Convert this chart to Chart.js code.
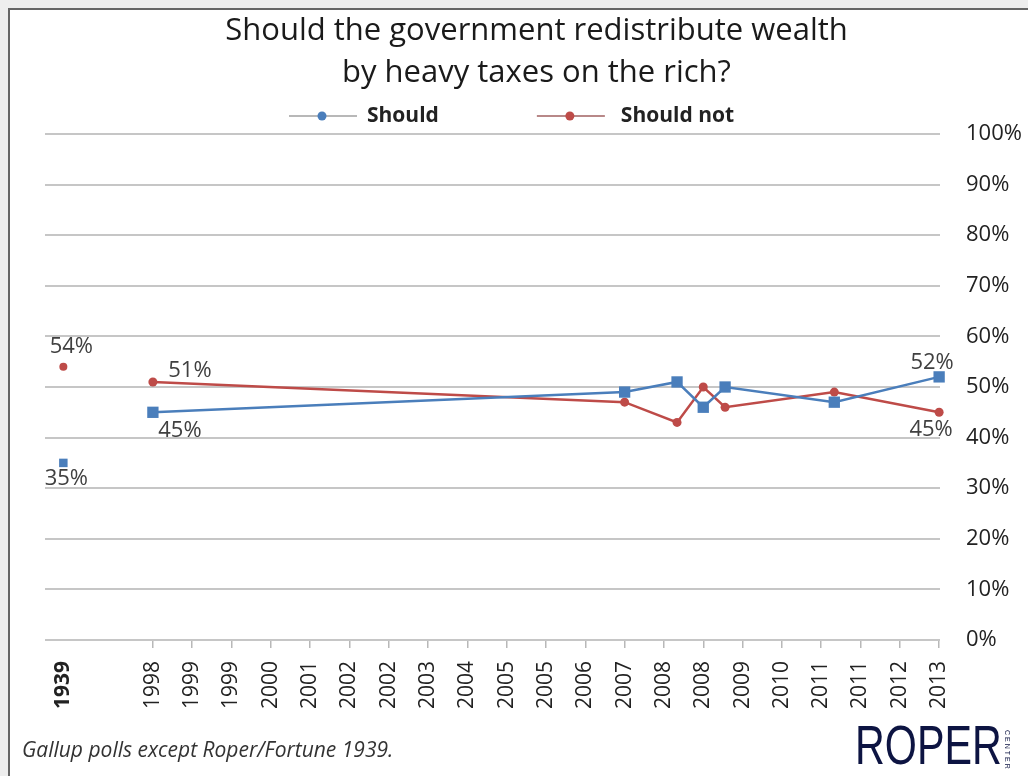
<!DOCTYPE html>
<html lang="en">
<head>
  <meta charset="UTF-8" />
  <title>Should the government redistribute wealth</title>
  <script src="https://cdn.jsdelivr.net/npm/chart.js"></script>
  <style>
    * { box-sizing: content-box; margin: 0; padding: 0; }
    body { background: #eeeeee; width: 1028px; height: 776px; overflow: hidden; font-family: 'Open Sans', sans-serif; }
    .frame {
      position: absolute; left: 8px; top: 8px;
      width: 1018px; height: 766px;
      background: #fff;
      border-left: 2px solid #666;
      border-top: 2px solid #666;
      overflow: hidden;
    }
    #chart { position: absolute; left: 0; top: 0; }
    .note {
      position: absolute; left: 12px; top: 725px;
      font: italic 21px 'Open Sans', sans-serif; color: #333;
      white-space: nowrap;
    }
    .logo {
      position: absolute; left: 845px; top: 708px;
      font: 55px 'Liberation Sans', sans-serif;
      line-height: 55px; color: #0d1442;
      transform: scaleX(0.75); transform-origin: 0 0;
    }
    .logo-sub {
      position: absolute; left: 994px; top: 720px;
      writing-mode: vertical-rl;
      font: 7px 'Liberation Sans', sans-serif; letter-spacing: 2px; color: #0d1442;
    }
  </style>
</head>
<body>
  <div class="frame">
    <canvas id="chart" width="1018" height="766"></canvas>
    <div class="note">Gallup polls except Roper/Fortune 1939.</div>
    <div class="logo">ROPER</div>
    <div class="logo-sub">CENTER</div>
  </div>

  <script>
    // poll dates (1939 sits off the date scale, to the left)
    const pollDates = ['1939', '1998-04', '2007-04', '2008-04', '2008-10', '2009-03', '2011-04', '2013-04'];
    const shouldValues = [35, 45, 49, 51, 46, 50, 47, 52];
    const shouldNotValues = [54, 51, 47, 43, 50, 46, 49, 45];
    const xTickLabels = ['1939', '1998', '1999', '1999', '2000', '2001', '2002', '2002', '2003', '2004', '2005',
      '2005', '2006', '2007', '2008', '2008', '2009', '2010', '2011', '2011', '2012', '2013'];

    // axis unit = months since April 1998, ticks every 9 months
    const POS_1939 = -20.5;
    function axisPos(d) {
      if (d === '1939') return POS_1939;
      const [y, m] = d.split('-').map(Number);
      return (y - 1998) * 12 + (m - 4);
    }
    const tickPositions = xTickLabels.map((_, i) => i === 0 ? POS_1939 : (i - 1) * 9);

    const BLUE = '#4a7ebb';
    const RED = '#be4b48';

    const valueLabels = {
      id: 'valueLabels',
      afterDatasetsDraw(chart) {
        const ctx = chart.ctx;
        ctx.save();
        ctx.font = '22px "Open Sans"';
        ctx.fillStyle = '#404040';
        ctx.textAlign = 'center';
        ctx.textBaseline = 'middle';
        chart.data.datasets.forEach((ds, di) => {
          const meta = chart.getDatasetMeta(di);
          Object.entries(ds.labelAt).forEach(([i, off]) => {
            const p = meta.data[i];
            ctx.fillText(ds.data[i].y + '%', p.x + off[0], p.y + off[1]);
          });
        });
        ctx.restore();
      }
    };

    // Excel-style legend: short line with marker, then bold text
    const lineLegend = {
      id: 'lineLegend',
      afterDraw(chart) {
        const ctx = chart.ctx;
        const y = chart.chartArea.top - 18;
        let x = chart.chartArea.left + 244;
        ctx.save();
        ctx.font = 'bold 21px "Open Sans"';
        ctx.textBaseline = 'middle';
        chart.data.datasets.forEach(ds => {
          ctx.strokeStyle = ds.legendLine;
          ctx.lineWidth = 1.5;
          ctx.beginPath();
          ctx.moveTo(x, y);
          ctx.lineTo(x + 68, y);
          ctx.stroke();
          ctx.fillStyle = ds.borderColor;
          ctx.beginPath();
          ctx.arc(x + 33, y, 4.5, 0, Math.PI * 2);
          ctx.fill();
          ctx.fillStyle = '#222';
          ctx.fillText(ds.label, x + ds.legendGap, y);
          x += ds.legendGap + ctx.measureText(ds.label).width + 98;
        });
        ctx.restore();
      }
    };

    const hideFirstGap = {
      borderColor: c => c.p0DataIndex === 0 ? 'rgba(0,0,0,0)' : undefined
    };

    new Chart(document.getElementById('chart'), {
      type: 'line',
      data: {
        datasets: [{
          label: 'Should',
          data: pollDates.map((d, i) => ({ x: axisPos(d), y: shouldValues[i] })),
          borderColor: BLUE,
          backgroundColor: BLUE,
          borderWidth: 2.5,
          pointStyle: 'rect',
          pointRadius: [6, 8, 8, 8, 8, 8, 8, 8],
          pointBorderWidth: 0,
          segment: hideFirstGap,
          clip: false,
          legendLine: '#a0a0a0',
          legendGap: 78,
          labelAt: { 0: [3, 16], 1: [27, 18], 7: [-7, -14] }
        }, {
          label: 'Should not',
          data: pollDates.map((d, i) => ({ x: axisPos(d), y: shouldNotValues[i] })),
          borderColor: RED,
          backgroundColor: RED,
          borderWidth: 2.5,
          pointStyle: 'circle',
          pointRadius: [4, 4.5, 4.5, 4.5, 4.5, 4.5, 4.5, 4.5],
          pointBorderWidth: 0,
          segment: hideFirstGap,
          clip: false,
          legendLine: '#a06060',
          legendGap: 84,
          labelAt: { 0: [8, -20], 1: [37, -11], 7: [-8, 17] }
        }]
      },
      options: {
        responsive: false,
        animation: false,
        devicePixelRatio: 1,
        layout: { padding: { left: 35, right: 0, top: 0, bottom: 0 } },
        plugins: {
          legend: { display: false },
          tooltip: { enabled: false },
          title: {
            display: true,
            text: ['Should the government redistribute wealth', 'by heavy taxes on the rich?'],
            color: '#1a1a1a',
            font: { family: 'Open Sans', size: 31, weight: 'normal', lineHeight: 1.355 },
            padding: { top: 0, bottom: 40 }
          }
        },
        scales: {
          x: {
            type: 'linear',
            min: -24.7,
            max: 180.2,
            afterFit: s => { s.height = 136; },
            afterBuildTicks: s => { s.ticks = tickPositions.map(v => ({ value: v })); },
            border: { display: false },
            grid: {
              drawOnChartArea: false,
              drawTicks: true,
              tickLength: 8,
              lineWidth: 1.5,
              color: c => c.index === 0 ? 'rgba(0,0,0,0)' : '#b8b8b8'
            },
            ticks: {
              autoSkip: false,
              minRotation: 90,
              maxRotation: 90,
              padding: 13,
              color: '#222',
              font: c => ({ family: 'Open Sans', size: 21, weight: c.index === 0 ? 'bold' : 'normal' }),
              callback: (v, i) => xTickLabels[i]
            }
          },
          y: {
            position: 'right',
            min: 0,
            max: 100,
            afterFit: s => { s.width = 88; },
            border: { display: false },
            grid: { color: '#c6c6c6', lineWidth: 2, drawTicks: false },
            ticks: {
              stepSize: 10,
              padding: 26,
              color: '#222',
              font: { family: 'Open Sans', size: 22 },
              callback: v => v + '%'
            }
          }
        }
      },
      plugins: [valueLabels, lineLegend]
    });
  </script>
</body>
</html>
